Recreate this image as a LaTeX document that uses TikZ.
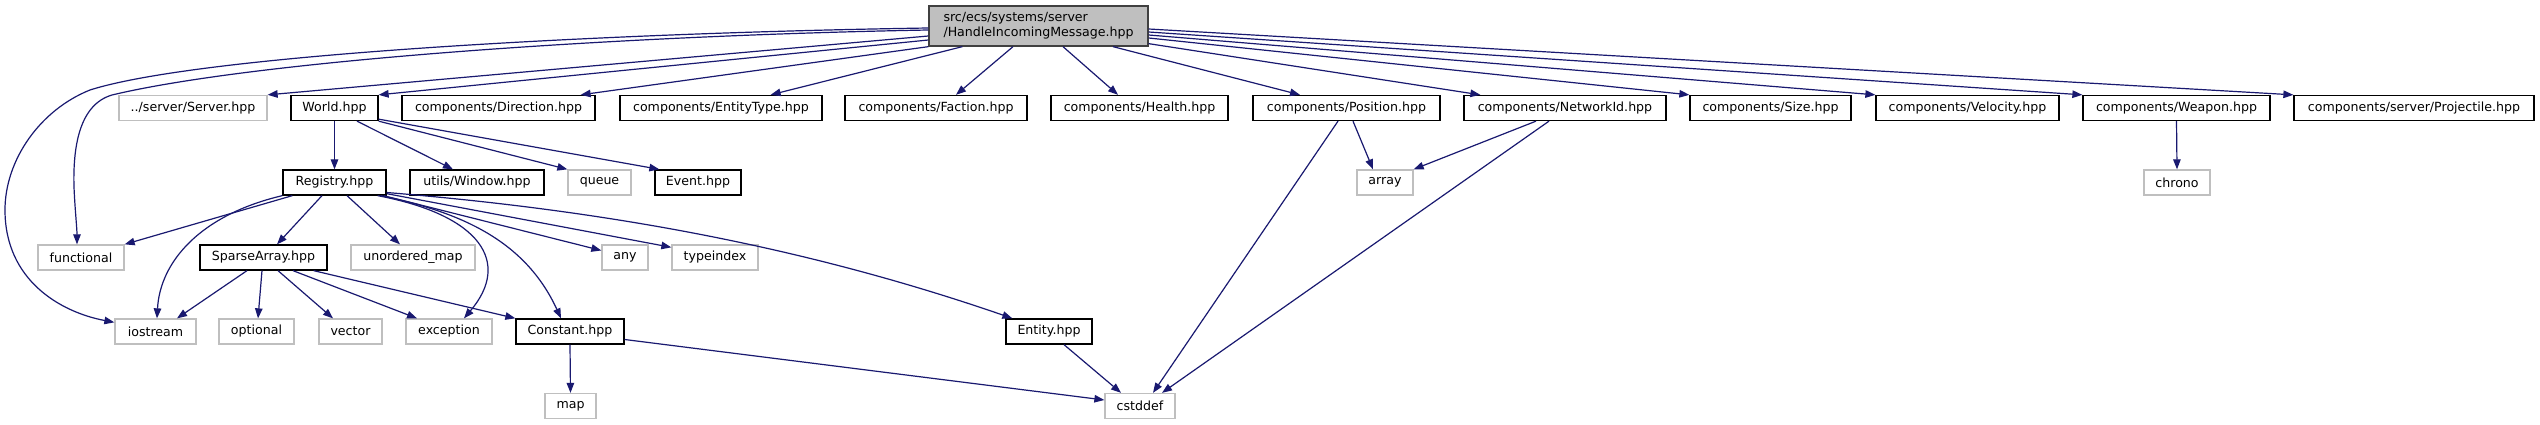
\documentclass[tikz,border=0pt]{standalone}
\usepackage{fontspec}
\setmainfont{DejaVu Sans}
\usetikzlibrary{arrows.meta,calc}
\definecolor{edgec}{HTML}{191970}
\definecolor{extc}{HTML}{BFBFBF}
\definecolor{mainfill}{HTML}{BFBFBF}
\definecolor{mainborder}{HTML}{404040}
\begin{document}
\begin{tikzpicture}[x=1pt,y=-1pt,
  box/.style={draw=black, fill=white, line width=1.3pt, inner sep=0pt, minimum height=25pt, font=\fontsize{12.6}{15}\selectfont},
  extbox/.style={box, draw=extc},
  mainbox/.style={box, fill=mainfill, draw=mainborder, minimum height=40pt, align=left},
  dep/.style={draw=edgec, line width=1.2pt, -{Triangle[length=10pt,width=7.5pt]}},
]
\fill[white] (0,0) rectangle (2540,425);
\useasboundingbox (0,0) rectangle (2540,425);

% nodes
\node[mainbox, minimum width=219pt] (M) at (1038.5,26) {src/ecs/systems/server\\/HandleIncomingMessage.hpp};

\node[extbox, minimum width=148pt] (srv) at (193,108) {../server/Server.hpp};
\node[box, minimum width=87pt] (world) at (334.5,108) {World.hpp};
\node[box, minimum width=193pt] (dir) at (498.5,108) {components/Direction.hpp};
\node[box, minimum width=202pt] (etype) at (721,108) {components/EntityType.hpp};
\node[box, minimum width=182pt] (fac) at (936,108) {components/Faction.hpp};
\node[box, minimum width=177pt] (hea) at (1139.5,108) {components/Health.hpp};
\node[box, minimum width=187pt] (pos) at (1346.5,108) {components/Position.hpp};
\node[box, minimum width=202pt] (nid) at (1565,108) {components/NetworkId.hpp};
\node[box, minimum width=161pt] (size) at (1770.5,108) {components/Size.hpp};
\node[box, minimum width=183pt] (vel) at (1967.5,108) {components/Velocity.hpp};
\node[box, minimum width=187pt] (weap) at (2176.5,108) {components/Weapon.hpp};
\node[box, minimum width=240pt] (proj) at (2414,108) {components/server/Projectile.hpp};

\node[box, minimum width=103pt] (reg) at (334.5,182.5) {Registry.hpp};
\node[box, minimum width=134pt] (win) at (477,182.5) {utils/Window.hpp};
\node[extbox, minimum width=63pt] (queue) at (599.5,182.5) {queue};
\node[box, minimum width=86pt] (event) at (698,182.5) {Event.hpp};
\node[extbox, minimum width=56pt] (arr) at (1385,182.5) {array};
\node[extbox, minimum width=66pt] (chrono) at (2177,182.5) {chrono};

\node[extbox, minimum width=86pt] (func) at (81,257.5) {functional};
\node[box, minimum width=127pt] (sparse) at (263.5,257.5) {SparseArray.hpp};
\node[extbox, minimum width=124pt] (umap) at (413,257.5) {unordered\_map};
\node[extbox, minimum width=46pt] (any) at (625,257.5) {any};
\node[extbox, minimum width=86pt] (tix) at (715,257.5) {typeindex};

\node[extbox, minimum width=81pt] (ios) at (155.5,331.5) {iostream};
\node[extbox, minimum width=75pt] (opt) at (256.5,331.5) {optional};
\node[extbox, minimum width=63pt] (vec) at (350.5,331.5) {vector};
\node[extbox, minimum width=86pt] (exc) at (449,331.5) {exception};
\node[box, minimum width=108pt] (const) at (570,331.5) {Constant.hpp};
\node[box, minimum width=86pt] (ent) at (1049,331.5) {Entity.hpp};

\node[extbox, minimum width=51pt] (map) at (570.5,406) {map};
\node[extbox, minimum width=70pt] (cst) at (1140,406) {cstddef};

% edges from main
\draw[dep] ($(M.west)+(0,2)$) .. controls (600,33) and (200,55) .. (90,90)
   .. controls (40,110) and (5,160) .. (5,210)
   .. controls (5,280) and (60,312) .. ($(ios.north west)+(0,4)$);
\draw[dep] ($(M.west)+(0,4)$) .. controls (600,36) and (250,62) .. (112,95)
   .. controls (78,105) and (73,150) .. (74,187)
   .. controls (75,210) and (77,228) .. ($(func.north)+(-4,0)$);
\draw[dep] ($(M.west)+(0,10)$) -- (srv.north east);
\draw[dep] ($(M.west)+(0,14)$) -- (world.north east);
\draw[dep] (M.south west) -- ($(dir.north east)+(-15,0)$);
\draw[dep] ($(M.south west)+(34,0)$) -- ($(etype.north east)+(-52,0)$);
\draw[dep] ($(M.south)+(-25.5,0)$) -- ($(fac.north)+(20,0)$);
\draw[dep] ($(M.south)+(24.5,0)$) -- ($(hea.north)+(-21.5,0)$);
\draw[dep] ($(M.south)+(74.5,0)$) -- ($(pos.north)+(-46.5,0)$);
\draw[dep] ($(M.south east)+(0,-3)$) -- ($(nid.north west)+(17,0)$);
\draw[dep] ($(M.east)+(0,12)$) -- (size.north west);
\draw[dep] ($(M.east)+(0,9)$) -- (vel.north west);
\draw[dep] ($(M.east)+(0,6)$) -- (weap.north west);
\draw[dep] ($(M.east)+(0,3)$) -- (proj.north west);

% World
\draw[dep] (world.south) -- (reg.north);
\draw[dep] ($(world.south)+(22.5,0)$) -- ($(win.north)+(-24,0)$);
\draw[dep] (world.south east) -- (queue.north west);
\draw[dep] ($(world.south east)+(0,-2)$) -- ($(event.north west)+(5,0)$);

% Registry
\draw[dep] ($(reg.south west)+(10,0)$) -- (func.north east);
\draw[dep] (reg.south west) .. controls (200,215) and (160,262) .. ($(ios.north)+(1.5,0)$);
\draw[dep] ($(reg.south)+(-12.5,0)$) -- ($(sparse.north)+(13.5,0)$);
\draw[dep] ($(reg.south)+(12.5,0)$) -- ($(umap.north)+(-13,0)$);
\draw[dep] ($(reg.south east)+(-9,0)$) .. controls (480,215) and (512,262) .. ($(exc.north)+(15,0)$);
\draw[dep] ($(reg.south east)+(-6,0)$) .. controls (460,212) and (525,240) .. ($(const.north)+(-9,0)$);
\draw[dep] ($(reg.south east)+(-3,0)$) -- ($(any.west)+(0,-7)$);
\draw[dep] ($(reg.south east)+(0,-2)$) -- ($(tix.north west)+(0,3)$);
\draw[dep] ($(reg.east)+(0,10)$) .. controls (600,210) and (800,245) .. ($(ent.north west)+(7,0)$);

% SparseArray
\draw[dep] ($(sparse.south)+(-16.5,0)$) -- ($(ios.north)+(21.5,0)$);
\draw[dep] ($(sparse.south)+(-1.5,0)$) -- ($(opt.north)+(1.5,0)$);
\draw[dep] ($(sparse.south)+(14.5,0)$) -- ($(vec.north)+(-17.5,0)$);
\draw[dep] ($(sparse.south)+(29.5,0)$) -- ($(exc.north)+(-32,0)$);
\draw[dep] ($(sparse.south east)+(-14,0)$) -- (const.north west);

% Constant, Entity
\draw[dep] (const.south) -- (map.north);
\draw[dep] ($(const.east)+(0,8)$) -- ($(cst.west)+(0,-6)$);
\draw[dep] ($(ent.south)+(15,0)$) -- ($(cst.north)+(-19,0)$);

% Position, NetworkId, Weapon
\draw[dep] ($(pos.south)+(6.5,0)$) -- ($(arr.north)+(-12,0)$);
\draw[dep] ($(pos.south)+(-8.5,0)$) -- ($(cst.north)+(13,0)$);
\draw[dep] ($(nid.south)+(-29,0)$) -- (arr.north east);
\draw[dep] ($(nid.south)+(-16,0)$) -- ($(cst.north)+(22,0)$);
\draw[dep] (weap.south) -- (chrono.north);
\end{tikzpicture}
\end{document}
